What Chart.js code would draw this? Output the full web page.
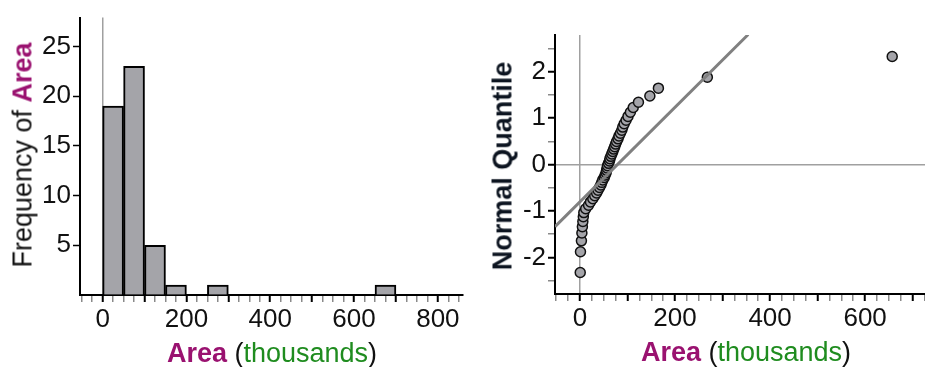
<!DOCTYPE html>
<html lang="en">
<head>
<meta charset="UTF-8">
<title>Area: histogram and normal quantile plot</title>
<script src="https://cdn.jsdelivr.net/npm/chart.js"></script>
<style>
  body { margin: 0; background: #fff; font-family: "Liberation Sans", Arial, sans-serif; }
  .wrap { position: relative; width: 925px; height: 367px; overflow: hidden; }
  #histWrap { position: absolute; left: 0; top: 0; width: 470px; height: 367px; }
  #qqWrap { position: absolute; left: 470px; top: 0; width: 455px; height: 367px; }
  .title { position: absolute; font-size: 27px; line-height: 1; white-space: nowrap; color: #111; }
  .ytitle { transform: translate(-50%, -50%) rotate(-90deg); }
  .xtitle { transform: translate(-50%, -50%); }
  .var { color: #9a1270; font-weight: bold; }
  .unit { color: #1f8c1f; }
  .bold { font-weight: bold; color: #0c1420; }
</style>
</head>
<body>
<div class="wrap">
  <div id="histWrap"><canvas id="histChart"></canvas></div>
  <div id="qqWrap"><canvas id="qqChart"></canvas></div>

  <div class="title ytitle" style="left:23px; top:155px;">Frequency of <span class="var">Area</span></div>
  <div class="title xtitle" style="left:272px; top:353px;"><span class="var">Area</span> (<span class="unit">thousands</span>)</div>
  <div class="title ytitle bold" style="left:503px; top:166px;">Normal Quantile</div>
  <div class="title xtitle" style="left:746px; top:352px;"><span class="var">Area</span> (<span class="unit">thousands</span>)</div>
</div>

<script>
  // Histogram bins (thousands), width 50, starting at 0
  const binStart = [0, 50, 100, 150, 200, 250, 300, 350, 400, 450, 500, 550, 600, 650];
  const binCount = [19, 23, 5, 1, 0, 1, 0, 0, 0, 0, 0, 0, 0, 1];
  const binWidth = 50;

  // Normal quantile plot: sorted areas and their normal quantiles
  const qqArea = [
    0.5, 1, 3, 4, 5, 6, 7, 8, 12, 18,
    22, 27, 31, 35, 38, 41, 44, 46, 48, 51,
    53, 55, 56, 57, 58, 60, 62, 63, 65, 67,
    69, 71, 73, 75, 77, 80, 82, 85, 88, 90,
    93, 97, 101, 106, 112, 123, 147, 165, 268, 657
  ];
  const qqQuantile = [
    -2.326, -1.881, -1.645, -1.476, -1.341, -1.227, -1.126, -1.036, -0.954, -0.878,
    -0.806, -0.739, -0.674, -0.613, -0.553, -0.496, -0.440, -0.385, -0.332, -0.279,
    -0.228, -0.176, -0.126, -0.075, -0.025, 0.025, 0.075, 0.126, 0.176, 0.228,
    0.279, 0.332, 0.385, 0.440, 0.496, 0.553, 0.613, 0.674, 0.739, 0.806,
    0.878, 0.954, 1.036, 1.126, 1.227, 1.341, 1.476, 1.645, 1.881, 2.326
  ];
  const qqYTicks = [-2.5, -2, -1.5, -1, -0.5, 0, 0.5, 1, 1.5, 2, 2.5];

  // Fitted normal line, endpoints read where it meets the frame
  const fitArea = [-52.6, 354];
  const fitQuantile = [-1.34, 2.8];

  const FONT = { family: '"Liberation Sans", Arial, sans-serif', size: 26 };
  const INK = '#111';
  const ZERO_LINE = '#a0a0a0';
  const MINOR = '#8a8a8a';

  function xTicks() {
    return {
      stepSize: 25,
      maxTicksLimit: 100,
      autoSkip: false,
      maxRotation: 0,
      includeBounds: false,
      padding: 2,
      color: INK,
      font: FONT,
      callback: (v) => (v % 200 === 0 ? v : '')
    };
  }

  function isMajorX(ctx) {
    return ctx.tick && ctx.tick.value % 100 === 0;
  }

  function xGrid() {
    return {
      drawOnChartArea: true,
      color: (ctx) => (ctx.tick && ctx.tick.value === 0 ? ZERO_LINE : 'transparent'),
      lineWidth: 1.5,
      tickColor: (ctx) => (isMajorX(ctx) ? '#000' : MINOR),
      tickLength: 7,
      tickWidth: (ctx) => (isMajorX(ctx) ? 2 : 1.5)
    };
  }

  function fitX(height) {
    return (scale) => {
      scale.height = height;
      scale.paddingLeft = 0;
      scale.paddingRight = 0;
    };
  }

  // Histogram
  new Chart(document.getElementById('histChart'), {
    type: 'bar',
    data: {
      datasets: [{
        data: binStart.map((s, i) => ({ x: s + binWidth / 2, y: binCount[i] })),
        backgroundColor: '#a4a4a9',
        borderColor: '#000',
        borderWidth: 2,
        borderSkipped: 'bottom',
        barThickness: 'flex',
        barPercentage: 1,
        categoryPercentage: 1
      }]
    },
    options: {
      responsive: true,
      maintainAspectRatio: false,
      animation: false,
      layout: { autoPadding: false, padding: { left: 0, top: 13, right: 7, bottom: 0 } },
      plugins: { legend: { display: false }, tooltip: { enabled: false } },
      scales: {
        x: {
          type: 'linear',
          min: -54,
          max: 860,
          offset: false,
          ticks: xTicks(),
          grid: Object.assign(xGrid(), { offset: false }),
          border: { color: '#000', width: 2 },
          afterFit: fitX(72)
        },
        y: {
          min: 0,
          max: 27.9,
          ticks: {
            stepSize: 5,
            autoSkip: false,
            includeBounds: false,
            padding: 2,
            color: INK,
            font: FONT,
            callback: (v) => (v === 0 ? '' : v)
          },
          grid: {
            drawOnChartArea: false,
            tickLength: 7,
            tickWidth: 1.5,
            tickColor: (ctx) => (ctx.tick && ctx.tick.value === 0 ? 'transparent' : '#000')
          },
          border: { color: '#000', width: 2 },
          afterFit: (scale) => { scale.width = 80; }
        }
      }
    }
  });

  // Normal quantile plot
  new Chart(document.getElementById('qqChart'), {
    type: 'scatter',
    data: {
      datasets: [
        {
          type: 'line',
          data: fitArea.map((a, i) => ({ x: a, y: fitQuantile[i] })),
          borderColor: '#808080',
          borderWidth: 3,
          pointRadius: 0,
          fill: false,
          order: 0
        },
        {
          data: qqArea.map((a, i) => ({ x: a, y: qqQuantile[i] })),
          backgroundColor: '#a4a4a9',
          borderColor: '#111',
          borderWidth: 1.5,
          pointRadius: 5,
          order: 1
        }
      ]
    },
    options: {
      responsive: true,
      maintainAspectRatio: false,
      animation: false,
      layout: { autoPadding: false, padding: { left: 0, top: 35, right: 0, bottom: 0 } },
      plugins: { legend: { display: false }, tooltip: { enabled: false } },
      scales: {
        x: {
          type: 'linear',
          min: -52.6,
          max: 726,
          ticks: xTicks(),
          grid: xGrid(),
          border: { color: '#000', width: 2 },
          afterFit: fitX(73)
        },
        y: {
          min: -2.79,
          max: 2.79,
          afterBuildTicks: (scale) => { scale.ticks = qqYTicks.map((v) => ({ value: v })); },
          ticks: {
            autoSkip: false,
            padding: 2,
            color: INK,
            font: FONT,
            callback: (v) => (Number.isInteger(v) ? v : '')
          },
          grid: {
            drawOnChartArea: true,
            color: (ctx) => (ctx.tick && ctx.tick.value === 0 ? ZERO_LINE : 'transparent'),
            lineWidth: 1.5,
            tickLength: 7,
            tickWidth: (ctx) => (ctx.tick && Number.isInteger(ctx.tick.value) ? 2 : 1.5),
            tickColor: (ctx) => (ctx.tick && Number.isInteger(ctx.tick.value) ? '#000' : MINOR)
          },
          border: { color: '#000', width: 2 },
          afterFit: (scale) => { scale.width = 85; }
        }
      }
    }
  });
</script>
</body>
</html>
